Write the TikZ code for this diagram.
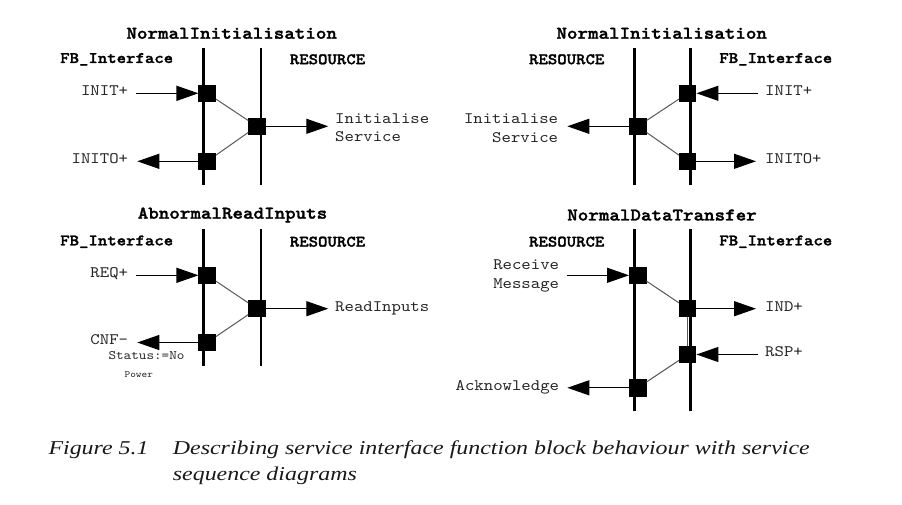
\documentclass[tikz,border=0pt]{standalone}
\usepackage{fontspec}
\setmainfont{Liberation Serif}
\setmonofont{lmmono10-regular}[Extension=.otf, BoldFont=lmmonolt10-bold, BoldFeatures={FakeBold=1.6}, FakeStretch=1.12]
\newfontfamily\capserif{Liberation Serif}[FakeStretch=1.22]
\usetikzlibrary{arrows.meta}
\newcommand\lblfont{\ttfamily\fontsize{16}{18.4}\selectfont}
\newcommand\hdrfont{\ttfamily\bfseries\fontsize{16}{18.4}\selectfont}
\newcommand\ttlfont{\ttfamily\bfseries\fontsize{17.9}{20}\selectfont}
\newcommand\smlfont{\ttfamily\fontsize{12.9}{14}\selectfont}
\newcommand\tnyfont{\ttfamily\fontsize{9.6}{12}\selectfont}
\newcommand\captfont{\capserif\itshape\fontsize{19.6}{26}\selectfont}
\tikzset{
 lane/.style={line width=2.5pt},
 sq/.style={fill=black, minimum size=17.5pt, inner sep=0pt, outer sep=0pt},
 arr/.style={line width=1.2pt, -{Triangle[length=22pt,width=15pt]}},
 conn/.style={line width=1pt, draw=black!65},
 lbl/.style={font=\lblfont, inner sep=0pt, text=black!85},
 hdr/.style={font=\hdrfont, inner sep=0pt},
 ttl/.style={font=\ttlfont, inner sep=0pt},
 captxt/.style={font=\captfont, inner sep=0pt, text=black!90},
}
\begin{document}
\begin{tikzpicture}[x=1pt,y=-1pt]
\useasboundingbox[fill=white] (0,0) rectangle (902,504);

% ---------- Diagram 1: top left ----------
\node[ttl] (t1) at (231.7,33.3) {NormalInitialisation};
\node[hdr] (h1a) at (116.7,59.3) {FB\_Interface};
\node[hdr] (h1b) at (327.5,59.3) {RESOURCE};
\coordinate (L1at) at (203.3,48.3); \coordinate (L1ab) at (203.3,185);
\coordinate (L1bt) at (261,48.3);   \coordinate (L1bb) at (261,185);
\draw[lane] (L1at) -- (L1ab);
\draw[lane] (L1bt) -- (L1bb);
\node[sq] (a1) at (207.2,93.3) {};
\node[sq] (a2) at (257,126.3) {};
\node[sq] (a3) at (207.2,161.3) {};
\coordinate (a1s) at (136,93.3);
\coordinate (a2t) at (328.3,126.3);
\coordinate (a3t) at (137.3,161.3);
\draw[conn] (a1) -- (a2);
\draw[conn] (a2) -- (a3);
\draw[arr] (a1s) -- (a1);
\draw[arr] (a2) -- (a2t);
\draw[arr] (a3) -- (a3t);
\node[lbl, anchor=mid east] (l1a) at (128.3,93.3) {INIT+};
\node[lbl, anchor=west, align=left] (l1b) at (335,127.5) {Initialise\\Service};
\node[lbl, anchor=mid east] (l1c) at (128.3,161.3) {INITO+};

% ---------- Diagram 2: top right ----------
\node[ttl] (t2) at (661.7,33.3) {NormalInitialisation};
\node[hdr] (h2a) at (566.7,59.3) {RESOURCE};
\node[hdr] (h2b) at (775.8,59.3) {FB\_Interface};
\coordinate (L2at) at (634.3,48.3); \coordinate (L2ab) at (634.3,185);
\coordinate (L2bt) at (690.7,48.3); \coordinate (L2bb) at (690.7,185);
\draw[lane] (L2at) -- (L2ab);
\draw[lane] (L2bt) -- (L2bb);
\node[sq] (b1) at (687.7,93.3) {};
\node[sq] (b2) at (637.8,126.3) {};
\node[sq] (b3) at (687.7,161.3) {};
\coordinate (b1s) at (758.3,93.3);
\coordinate (b2t) at (567.3,126.3);
\coordinate (b3t) at (756,161.3);
\draw[conn] (b1) -- (b2);
\draw[conn] (b2) -- (b3);
\draw[arr] (b1s) -- (b1);
\draw[arr] (b2) -- (b2t);
\draw[arr] (b3) -- (b3t);
\node[lbl, anchor=mid west] (l2a) at (765,93.3) {INIT+};
\node[lbl, anchor=east, align=right] (l2b) at (558.3,128) {Initialise\\Service};
\node[lbl, anchor=mid west] (l2c) at (765,161.3) {INITO+};

% ---------- Diagram 3: bottom left ----------
\node[ttl] (t3) at (232.5,215) {AbnormalReadInputs};
\node[hdr] (h3a) at (116.7,241.7) {FB\_Interface};
\node[hdr] (h3b) at (327.5,241.7) {RESOURCE};
\coordinate (L3at) at (203.3,229.3); \coordinate (L3ab) at (203.3,366);
\coordinate (L3bt) at (261,229.3);   \coordinate (L3bb) at (261,366);
\draw[lane] (L3at) -- (L3ab);
\draw[lane] (L3bt) -- (L3bb);
\node[sq] (c1) at (207.2,275.3) {};
\node[sq] (c2) at (257,308.7) {};
\node[sq] (c3) at (207.2,342.5) {};
\coordinate (c1s) at (136,275.3);
\coordinate (c2t) at (328.3,308.7);
\coordinate (c3t) at (137.3,342.5);
\draw[conn] (c1) -- (c2);
\draw[conn] (c2) -- (c3);
\draw[arr] (c1s) -- (c1);
\draw[arr] (c2) -- (c2t);
\draw[arr] (c3) -- (c3t);
\node[lbl, anchor=mid east] (l3a) at (128.3,275.3) {REQ+};
\node[lbl, anchor=mid west] (l3b) at (335,308.7) {ReadInputs};
\node[lbl, anchor=mid east] (l3c) at (128.3,342.5) {CNF-};
\node[font=\smlfont, inner sep=0pt, anchor=mid, text=black!85] (l3d) at (146.5,357.3) {Status:=No};
\node[font=\tnyfont, inner sep=0pt, anchor=mid, text=black!85] (l3e) at (138.8,375) {Power};

% ---------- Diagram 4: bottom right ----------
\node[ttl] (t4) at (662,215) {NormalDataTransfer};
\node[hdr] (h4a) at (566.7,241.7) {RESOURCE};
\node[hdr] (h4b) at (775.8,241.7) {FB\_Interface};
\coordinate (L4at) at (634.3,229.3); \coordinate (L4ab) at (634.3,410.7);
\coordinate (L4bt) at (690.7,229.3); \coordinate (L4bb) at (690.7,410.7);
\draw[lane] (L4at) -- (L4ab);
\draw[lane] (L4bt) -- (L4bb);
\node[sq] (d1) at (637.8,275.3) {};
\node[sq] (d2) at (687.7,308.7) {};
\node[sq] (d3) at (687.7,354.5) {};
\node[sq] (d4) at (637.8,387.8) {};
\coordinate (d1s) at (566.7,275.3);
\coordinate (d2t) at (756,308.7);
\coordinate (d3s) at (758.3,354.5);
\coordinate (d4t) at (567.3,387.8);
\draw[conn] (d1) -- (d2);
\draw[conn] (d2) -- (d3);
\draw[conn] (d3) -- (d4);
\draw[arr] (d1s) -- (d1);
\draw[arr] (d2) -- (d2t);
\draw[arr] (d3s) -- (d3);
\draw[arr] (d4) -- (d4t);
\node[lbl, anchor=east, align=right] (l4a) at (559.3,276) {Receive\\Message};
\node[lbl, anchor=mid west] (l4b) at (765,308.7) {IND+};
\node[lbl, anchor=mid west] (l4c) at (765,354.5) {RSP+};
\node[lbl, anchor=mid east] (l4d) at (559.3,387.8) {Acknowledge};

% ---------- Caption ----------
\node[captxt, anchor=base west] (cf) at (48.3,454) {Figure 5.1};
\node[captxt, anchor=base west, align=left] (ct) at (172.7,480) {Describing service interface function block behaviour with service\\sequence diagrams};
\end{tikzpicture}
\end{document}
